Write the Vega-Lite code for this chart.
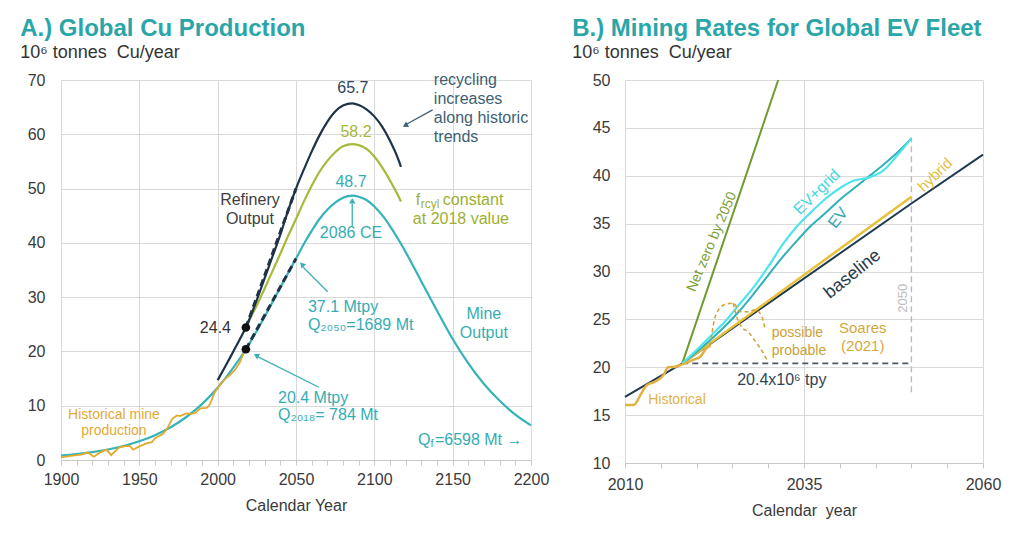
{
  "$schema": "https://vega.github.io/schema/vega-lite/v6.json",
  "padding": {"left": 20, "top": 17, "right": 5, "bottom": 5},
  "spacing": 23,
  "config": {
    "font": "Liberation Sans",
    "view": {"stroke": null},
    "axis": {"labelFont": "Liberation Sans", "labelFontSize": 16, "labelColor": "#3a3a3a", "titleFont": "Liberation Sans", "titleFontSize": 16, "titleFontWeight": "normal", "titleColor": "#3a3a3a", "gridColor": "#d9d9d9", "domainColor": "#c8c8c8", "tickColor": "#c8c8c8", "labelFlush": false},
    "title": {"font": "Liberation Sans", "fontSize": 24, "fontWeight": "bold", "color": "#2BA6A8", "subtitleFont": "Liberation Sans", "subtitleFontSize": 18, "subtitleColor": "#333333", "anchor": "start", "frame": "bounds", "offset": 10, "subtitlePadding": 3}
  },
  "datasets": {
    "left": [
      {"s":"mine","year":1900,"value":0.82},{"s":"mine","year":1910,"value":1.09},{"s":"mine","year":1920,"value":1.46},{"s":"mine","year":1930,"value":1.94},{"s":"mine","year":1940,"value":2.59},{"s":"mine","year":1950,"value":3.44},{"s":"mine","year":1960,"value":4.57},{"s":"mine","year":1970,"value":6.02},{"s":"mine","year":1980,"value":7.92},{"s":"mine","year":1990,"value":10.3},{"s":"mine","year":2000,"value":13.3},{"s":"mine","year":2010,"value":17.0},{"s":"mine","year":2018,"value":20.4},{"s":"mine","year":2025,"value":23.8},{"s":"mine","year":2030,"value":26.4},{"s":"mine","year":2035,"value":29.1},{"s":"mine","year":2040,"value":31.8},{"s":"mine","year":2045,"value":34.5},{"s":"mine","year":2050,"value":37.1},{"s":"mine","year":2055,"value":39.8},{"s":"mine","year":2060,"value":42.2},{"s":"mine","year":2065,"value":44.4},{"s":"mine","year":2070,"value":46.1},{"s":"mine","year":2075,"value":47.4},{"s":"mine","year":2080,"value":48.3},{"s":"mine","year":2086,"value":48.7},{"s":"mine","year":2090,"value":48.5},{"s":"mine","year":2095,"value":47.9},{"s":"mine","year":2100,"value":46.7},{"s":"mine","year":2105,"value":45.1},{"s":"mine","year":2110,"value":43.1},{"s":"mine","year":2115,"value":40.8},{"s":"mine","year":2120,"value":38.3},{"s":"mine","year":2130,"value":32.9},{"s":"mine","year":2140,"value":27.5},{"s":"mine","year":2150,"value":22.3},{"s":"mine","year":2160,"value":17.8},{"s":"mine","year":2170,"value":14.0},{"s":"mine","year":2180,"value":10.9},{"s":"mine","year":2190,"value":8.35},{"s":"mine","year":2200,"value":6.37},
      {"s":"ref","year":2000,"value":14.7},{"s":"ref","year":2005,"value":17.3},{"s":"ref","year":2010,"value":20.0},{"s":"ref","year":2015,"value":22.7},{"s":"ref","year":2018,"value":24.4},{"s":"ref","year":2025,"value":29.5},{"s":"ref","year":2030,"value":33.5},{"s":"ref","year":2035,"value":37.5},{"s":"ref","year":2040,"value":41.5},{"s":"ref","year":2045,"value":46.0},{"s":"ref","year":2050,"value":50.0},{"s":"ref","year":2055,"value":53.5},{"s":"ref","year":2060,"value":56.8},{"s":"ref","year":2065,"value":59.8},{"s":"ref","year":2070,"value":62.3},{"s":"ref","year":2075,"value":64.2},{"s":"ref","year":2080,"value":65.3},{"s":"ref","year":2086,"value":65.7},{"s":"ref","year":2090,"value":65.4},{"s":"ref","year":2095,"value":64.6},{"s":"ref","year":2100,"value":63.3},{"s":"ref","year":2105,"value":61.4},{"s":"ref","year":2110,"value":58.8},{"s":"ref","year":2115,"value":55.6},{"s":"ref","year":2117,"value":54.0},
      {"s":"frc","year":2018,"value":24.4},{"s":"frc","year":2020,"value":25.6},{"s":"frc","year":2025,"value":28.5},{"s":"frc","year":2030,"value":31.6},{"s":"frc","year":2035,"value":34.8},{"s":"frc","year":2040,"value":38.0},{"s":"frc","year":2045,"value":41.3},{"s":"frc","year":2050,"value":44.4},{"s":"frc","year":2055,"value":47.6},{"s":"frc","year":2060,"value":50.5},{"s":"frc","year":2065,"value":53.1},{"s":"frc","year":2070,"value":55.1},{"s":"frc","year":2075,"value":56.7},{"s":"frc","year":2080,"value":57.8},{"s":"frc","year":2086,"value":58.2},{"s":"frc","year":2090,"value":58.0},{"s":"frc","year":2095,"value":57.3},{"s":"frc","year":2100,"value":55.9},{"s":"frc","year":2105,"value":53.9},{"s":"frc","year":2110,"value":51.5},{"s":"frc","year":2115,"value":48.8},{"s":"frc","year":2117,"value":47.6},
      {"s":"hist","year":1900,"value":0.5},{"s":"hist","year":1905,"value":0.7},{"s":"hist","year":1910,"value":0.9},{"s":"hist","year":1913,"value":1.0},{"s":"hist","year":1917,"value":1.4},{"s":"hist","year":1921,"value":0.6},{"s":"hist","year":1925,"value":1.4},{"s":"hist","year":1929,"value":1.9},{"s":"hist","year":1932,"value":0.9},{"s":"hist","year":1937,"value":2.3},{"s":"hist","year":1940,"value":2.5},{"s":"hist","year":1944,"value":2.6},{"s":"hist","year":1946,"value":1.9},{"s":"hist","year":1950,"value":2.5},{"s":"hist","year":1955,"value":3.1},{"s":"hist","year":1958,"value":3.3},{"s":"hist","year":1960,"value":4.0},{"s":"hist","year":1965,"value":4.8},{"s":"hist","year":1968,"value":5.9},{"s":"hist","year":1971,"value":7.6},{"s":"hist","year":1974,"value":8.2},{"s":"hist","year":1976,"value":8.1},{"s":"hist","year":1980,"value":8.6},{"s":"hist","year":1983,"value":8.5},{"s":"hist","year":1986,"value":8.7},{"s":"hist","year":1989,"value":9.5},{"s":"hist","year":1993,"value":9.6},{"s":"hist","year":1995,"value":10.2},{"s":"hist","year":1998,"value":12.4},{"s":"hist","year":2002,"value":14.1},{"s":"hist","year":2005,"value":15.0},{"s":"hist","year":2008,"value":15.7},{"s":"hist","year":2011,"value":16.6},{"s":"hist","year":2014,"value":17.9},{"s":"hist","year":2016,"value":19.3},{"s":"hist","year":2018,"value":20.5},{"s":"hist","year":2020,"value":21.5}
    ],
    "dashL": [
      {"seg":"a","year":2018,"value":20.4},{"seg":"a","year":2050,"value":37.1},
      {"seg":"b","year":2018,"value":24.4},{"seg":"b","year":2050,"value":50.0}
    ],
    "right": [
      {"s":"base","year":2010,"value":16.9},{"s":"base","year":2018,"value":20.4},{"s":"base","year":2050,"value":37.1},{"s":"base","year":2060,"value":42.2},
      {"s":"hyb","year":2018,"value":20.4},{"s":"hyb","year":2050,"value":37.8},
      {"s":"evg","year":2018,"value":20.4},{"s":"evg","year":2020,"value":21.8},{"s":"evg","year":2022,"value":23.3},{"s":"evg","year":2024,"value":24.8},{"s":"evg","year":2026,"value":26.6},{"s":"evg","year":2028,"value":28.4},{"s":"evg","year":2030,"value":30.5},{"s":"evg","year":2032,"value":32.8},{"s":"evg","year":2034,"value":34.7},{"s":"evg","year":2036,"value":36.2},{"s":"evg","year":2038,"value":37.6},{"s":"evg","year":2040,"value":38.7},{"s":"evg","year":2042,"value":39.5},{"s":"evg","year":2044,"value":39.8},{"s":"evg","year":2046,"value":40.5},{"s":"evg","year":2048,"value":42.1},{"s":"evg","year":2050,"value":43.9},
      {"s":"ev","year":2018,"value":20.4},{"s":"ev","year":2020,"value":21.6},{"s":"ev","year":2022,"value":22.9},{"s":"ev","year":2024,"value":24.3},{"s":"ev","year":2026,"value":25.9},{"s":"ev","year":2028,"value":27.7},{"s":"ev","year":2030,"value":29.6},{"s":"ev","year":2032,"value":31.5},{"s":"ev","year":2034,"value":33.2},{"s":"ev","year":2036,"value":34.8},{"s":"ev","year":2038,"value":36.1},{"s":"ev","year":2040,"value":37.5},{"s":"ev","year":2042,"value":38.7},{"s":"ev","year":2044,"value":39.9},{"s":"ev","year":2046,"value":41.1},{"s":"ev","year":2048,"value":42.4},{"s":"ev","year":2050,"value":43.9},
      {"s":"nz","year":2018,"value":20.4},{"s":"nz","year":2031.4,"value":50.0},
      {"s":"hist","year":2010,"value":16.05},{"s":"hist","year":2011.2,"value":16.05},{"s":"hist","year":2012.3,"value":17.3},{"s":"hist","year":2013,"value":18.1},{"s":"hist","year":2014.2,"value":18.5},{"s":"hist","year":2015.4,"value":19.2},{"s":"hist","year":2016,"value":20.0},{"s":"hist","year":2017,"value":20.06},{"s":"hist","year":2018,"value":20.3},{"s":"hist","year":2019.5,"value":20.76},{"s":"hist","year":2020.5,"value":21.1},{"s":"hist","year":2021.4,"value":22.0},{"s":"hist","year":2021.9,"value":22.2},
      {"s":"poss","year":2021.9,"value":22.2},{"s":"poss","year":2022.5,"value":25.0},{"s":"poss","year":2023.4,"value":26.3},{"s":"poss","year":2024.2,"value":26.6},{"s":"poss","year":2025.1,"value":26.7},{"s":"poss","year":2026.1,"value":25.8},{"s":"poss","year":2027.2,"value":25.8},{"s":"poss","year":2028.2,"value":26.0},{"s":"poss","year":2029.1,"value":25.3},{"s":"poss","year":2029.6,"value":23.9},
      {"s":"prob","year":2025.1,"value":26.7},{"s":"prob","year":2025.6,"value":25.3},{"s":"prob","year":2026.3,"value":24.2},{"s":"prob","year":2027.2,"value":23.7},{"s":"prob","year":2028.4,"value":22.5},{"s":"prob","year":2029.3,"value":21.5},{"s":"prob","year":2029.8,"value":20.8}
    ]
  },
  "hconcat": [
    {
      "width": 470,
      "height": 380,
      "title": {"text": "A.) Global Cu Production", "subtitle": "10⁶ tonnes\u00a0 Cu/year", "dx": -7},
      "encoding": {
        "x": {"field": "year", "type": "quantitative", "scale": {"domain": [1900, 2200], "nice": false, "zero": false},
          "axis": {"title": "Calendar Year", "values": [1900,1910,1920,1930,1940,1950,1960,1970,1980,1990,2000,2010,2020,2030,2040,2050,2060,2070,2080,2090,2100,2110,2120,2130,2140,2150,2160,2170,2180,2190,2200], "format": "d", "labelExpr": "datum.value % 50 === 0 ? datum.label : ''", "labelOverlap": false, "gridOpacity": {"condition": {"test": "datum.value % 50 === 0", "value": 1}, "value": 0}, "tickSize": 5, "labelPadding": 6, "titlePadding": 10}},
        "y": {"field": "value", "type": "quantitative", "scale": {"domain": [0, 70], "nice": false},
          "axis": {"title": null, "values": [0,10,20,30,40,50,60,70], "domain": false, "ticks": false, "labelPadding": 16}}
      },
      "layer": [
        {"data": {"name": "left"}, "transform": [{"filter": "datum.s === 'mine'"}], "mark": {"type": "line", "color": "#35B3B8", "strokeWidth": 2.2, "interpolate": "monotone"}},
        {"data": {"name": "left"}, "transform": [{"filter": "datum.s === 'frc'"}], "mark": {"type": "line", "color": "#A4BA3A", "strokeWidth": 2.2, "interpolate": "monotone"}},
        {"data": {"name": "left"}, "transform": [{"filter": "datum.s === 'ref'"}], "mark": {"type": "line", "color": "#1E3348", "strokeWidth": 2.2, "interpolate": "monotone"}},
        {"data": {"name": "left"}, "transform": [{"filter": "datum.s === 'hist'"}], "mark": {"type": "line", "color": "#E3A92B", "strokeWidth": 1.8}},
        {"data": {"name": "dashL"}, "mark": {"type": "line", "color": "#1E3348", "strokeWidth": 3, "strokeDash": [7, 4]}, "encoding": {"detail": {"field": "seg"}}},
        {"data": {"values": [{"year": 2018, "value": 24.4}, {"year": 2018, "value": 20.4}]}, "mark": {"type": "point", "filled": true, "color": "#111111", "size": 75, "opacity": 1}},
        {"data": {"values": [{"year": 2085.9, "value": 43.1, "year2": 2085.9, "value2": 47.2}, {"year": 2070.2, "value": 31.0, "year2": 2054.6, "value2": 35.5}, {"year": 2064.6, "value": 13.4, "year2": 2025.8, "value2": 19.0}]}, "mark": {"type": "rule", "color": "#3AB0B5", "strokeWidth": 1.3}, "encoding": {"x2": {"field": "year2"}, "y2": {"field": "value2"}}},
        {"data": {"values": [{"year": 2137.2, "value": 64.5, "year2": 2120.8, "value2": 61.9}]}, "mark": {"type": "rule", "color": "#3d5f73", "strokeWidth": 1.3}, "encoding": {"x2": {"field": "year2"}, "y2": {"field": "value2"}}},
        {"data": {"values": [{"year": 2120.2, "value": 61.7}]}, "mark": {"type": "point", "shape": "triangle", "filled": true, "angle": 240.7, "size": 40, "color": "#3d5f73", "opacity": 1}},
        {"data": {"values": [{"year": 2085.9, "value": 47.6}]}, "mark": {"type": "point", "shape": "triangle", "filled": true, "angle": 0, "size": 40, "color": "#3AB0B5", "opacity": 1}},
        {"data": {"values": [{"year": 2054.2, "value": 35.9}]}, "mark": {"type": "point", "shape": "triangle", "filled": true, "angle": 316.8, "size": 40, "color": "#3AB0B5", "opacity": 1}},
        {"data": {"values": [{"year": 2025.1, "value": 19.2}]}, "mark": {"type": "point", "shape": "triangle", "filled": true, "angle": 296.6, "size": 40, "color": "#3AB0B5", "opacity": 1}},
        {"data": {"values": [{"t": "65.7", "year": 2086.3, "value": 68.5}]}, "mark": {"type": "text", "fontSize": 16, "color": "#2F4557", "align": "center", "baseline": "middle"}, "encoding": {"text": {"field": "t"}}},
        {"data": {"values": [{"t": "58.2", "year": 2088.3, "value": 60.4}]}, "mark": {"type": "text", "fontSize": 16, "color": "#A4B83A", "align": "center", "baseline": "middle"}, "encoding": {"text": {"field": "t"}}},
        {"data": {"values": [{"t": "48.7", "year": 2085.1, "value": 51.2}, {"t": "2086 CE", "year": 2085.1, "value": 41.8}, {"t": "Mine", "year": 2169.9, "value": 26.9}, {"t": "Output", "year": 2169.9, "value": 23.4}]}, "mark": {"type": "text", "fontSize": 16, "color": "#35ADB3", "align": "center", "baseline": "middle"}, "encoding": {"text": {"field": "t"}}},
        {"data": {"values": [{"t": "Refinery", "year": 2020.6, "value": 47.9}, {"t": "Output", "year": 2020.6, "value": 44.4}]}, "mark": {"type": "text", "fontSize": 16, "color": "#404040", "align": "center", "baseline": "middle"}, "encoding": {"text": {"field": "t"}}},
        {"data": {"values": [{"t": "recycling", "year": 2138, "value": 70.0}, {"t": "increases", "year": 2138, "value": 66.5}, {"t": "along historic", "year": 2138, "value": 63.0}, {"t": "trends", "year": 2138, "value": 59.5}]}, "mark": {"type": "text", "fontSize": 16, "color": "#3d5f73", "align": "left", "baseline": "middle"}, "encoding": {"text": {"field": "t"}}},
        {"data": {"values": [{"t": "f", "year": 2126.5, "value": 47.9}]}, "mark": {"type": "text", "fontSize": 16, "color": "#9CB030", "align": "left", "baseline": "middle"}, "encoding": {"text": {"field": "t"}}},
        {"data": {"values": [{"t": "rcyl", "year": 2126.5, "value": 47.9}]}, "mark": {"type": "text", "fontSize": 12, "color": "#9CB030", "align": "left", "baseline": "middle", "dx": 5, "dy": 4}, "encoding": {"text": {"field": "t"}}},
        {"data": {"values": [{"t": "constant", "year": 2126.5, "value": 47.9}]}, "mark": {"type": "text", "fontSize": 16, "color": "#9CB030", "align": "left", "baseline": "middle", "dx": 27}, "encoding": {"text": {"field": "t"}}},
        {"data": {"values": [{"t": "at 2018 value", "year": 2124.6, "value": 44.4}]}, "mark": {"type": "text", "fontSize": 16, "color": "#9CB030", "align": "left", "baseline": "middle"}, "encoding": {"text": {"field": "t"}}},
        {"data": {"values": [{"t": "24.4", "year": 2008.5, "value": 24.3}]}, "mark": {"type": "text", "fontSize": 16, "color": "#333333", "align": "right", "baseline": "middle"}, "encoding": {"text": {"field": "t"}}},
        {"data": {"values": [{"t": "37.1 Mtpy", "year": 2057.6, "value": 28.1}, {"t": "Q₂₀₅₀=1689 Mt", "year": 2057.6, "value": 24.8}, {"t": "20.4 Mtpy", "year": 2038.5, "value": 11.5}, {"t": "Q₂₀₁₈= 784 Mt", "year": 2038.5, "value": 8.2}]}, "mark": {"type": "text", "fontSize": 16, "color": "#35ADB3", "align": "left", "baseline": "middle"}, "encoding": {"text": {"field": "t"}}},
        {"data": {"values": [{"t": "Q", "year": 2127.8, "value": 3.68}]}, "mark": {"type": "text", "fontSize": 16, "color": "#35ADB3", "align": "left", "baseline": "middle"}, "encoding": {"text": {"field": "t"}}},
        {"data": {"values": [{"t": "f", "year": 2127.8, "value": 3.68}]}, "mark": {"type": "text", "fontSize": 11, "color": "#35ADB3", "align": "left", "baseline": "middle", "dx": 12.5, "dy": 4}, "encoding": {"text": {"field": "t"}}},
        {"data": {"values": [{"t": "=6598 Mt →", "year": 2127.8, "value": 3.68}]}, "mark": {"type": "text", "fontSize": 16, "color": "#35ADB3", "align": "left", "baseline": "middle", "dx": 17}, "encoding": {"text": {"field": "t"}}},
        {"data": {"values": [{"t": "Historical mine", "year": 1933.8, "value": 8.3}, {"t": "production", "year": 1933.8, "value": 5.3}]}, "mark": {"type": "text", "fontSize": 14, "color": "#E3AA35", "align": "center", "baseline": "middle"}, "encoding": {"text": {"field": "t"}}}
      ]
    },
    {
      "width": 358,
      "height": 383,
      "title": {"text": "B.) Mining Rates for Global EV Fleet", "subtitle": "10⁶ tonnes\u00a0 Cu/year", "dx": -20},
      "encoding": {
        "x": {"field": "year", "type": "quantitative", "scale": {"domain": [2010, 2060], "nice": false, "zero": false},
          "axis": {"title": "Calendar\u00a0 year", "values": [2010,2015,2020,2025,2030,2035,2040,2045,2050,2055,2060], "format": "d", "labelExpr": "datum.value % 25 === 10 ? datum.label : ''", "labelOverlap": false, "gridOpacity": {"condition": {"test": "datum.value % 25 === 10", "value": 1}, "value": 0}, "tickSize": 5, "labelPadding": 8, "titlePadding": 10}},
        "y": {"field": "value", "type": "quantitative", "scale": {"domain": [10, 50], "nice": false, "zero": false},
          "axis": {"title": null, "values": [10,15,20,25,30,35,40,45,50], "domain": false, "ticks": false, "labelPadding": 15}}
      },
      "layer": [
        {"data": {"values": [{"year": 2018, "value": 20.4, "year2": 2050, "value2": 20.4}]}, "mark": {"type": "rule", "color": "#4A5A6A", "strokeWidth": 1.6, "strokeDash": [6, 4]}, "encoding": {"x2": {"field": "year2"}, "y2": {"field": "value2"}}},
        {"data": {"values": [{"year": 2050, "value": 17.4, "year2": 2050, "value2": 44.0}]}, "mark": {"type": "rule", "color": "#BBBBBB", "strokeWidth": 1.4, "strokeDash": [6, 4]}, "encoding": {"x2": {"field": "year2"}, "y2": {"field": "value2"}}},
        {"data": {"name": "right"}, "transform": [{"filter": "datum.s === 'nz'"}], "mark": {"type": "line", "color": "#6F9A2E", "strokeWidth": 2}},
        {"data": {"name": "right"}, "transform": [{"filter": "datum.s === 'base'"}], "mark": {"type": "line", "color": "#1F3A4F", "strokeWidth": 2}},
        {"data": {"name": "right"}, "transform": [{"filter": "datum.s === 'hyb'"}], "mark": {"type": "line", "color": "#E8C13A", "strokeWidth": 2.5}},
        {"data": {"name": "right"}, "transform": [{"filter": "datum.s === 'ev'"}], "mark": {"type": "line", "color": "#2FB1B9", "strokeWidth": 2, "interpolate": "monotone"}},
        {"data": {"name": "right"}, "transform": [{"filter": "datum.s === 'evg'"}], "mark": {"type": "line", "color": "#4FE3EC", "strokeWidth": 2.2, "interpolate": "monotone"}},
        {"data": {"name": "right"}, "transform": [{"filter": "datum.s === 'hist'"}], "mark": {"type": "line", "color": "#E0B040", "strokeWidth": 2.5, "interpolate": "monotone"}},
        {"data": {"name": "right"}, "transform": [{"filter": "datum.s === 'poss'"}], "mark": {"type": "line", "color": "#CFA237", "strokeWidth": 1.5, "strokeDash": [4, 3], "interpolate": "monotone"}},
        {"data": {"name": "right"}, "transform": [{"filter": "datum.s === 'prob'"}], "mark": {"type": "line", "color": "#CFA237", "strokeWidth": 1.5, "strokeDash": [4, 3], "interpolate": "monotone"}},
        {"data": {"values": [{"t": "Net zero by 2050", "year": 2022.15, "value": 33.1}]}, "mark": {"type": "text", "fontSize": 14, "color": "#7A9E32", "align": "center", "baseline": "middle", "angle": -67}, "encoding": {"text": {"field": "t"}}},
        {"data": {"values": [{"t": "EV+grid", "year": 2036.8, "value": 38.3}]}, "mark": {"type": "text", "fontSize": 16, "color": "#45D8E0", "align": "center", "baseline": "middle", "angle": -44}, "encoding": {"text": {"field": "t"}}},
        {"data": {"values": [{"t": "EV", "year": 2039.75, "value": 35.6}]}, "mark": {"type": "text", "fontSize": 16, "color": "#2FA7AF", "align": "center", "baseline": "middle", "angle": -52}, "encoding": {"text": {"field": "t"}}},
        {"data": {"values": [{"t": "baseline", "year": 2041.8, "value": 29.7}]}, "mark": {"type": "text", "fontSize": 18, "color": "#1F3A4F", "align": "center", "baseline": "middle", "angle": -39}, "encoding": {"text": {"field": "t"}}},
        {"data": {"values": [{"t": "hybrid", "year": 2053.3, "value": 40.1}]}, "mark": {"type": "text", "fontSize": 15, "color": "#E3BF3F", "align": "center", "baseline": "middle", "angle": -44}, "encoding": {"text": {"field": "t"}}},
        {"data": {"values": [{"t": "Soares", "year": 2043.2, "value": 24.1}, {"t": "(2021)", "year": 2043.2, "value": 22.2}]}, "mark": {"type": "text", "fontSize": 15, "color": "#D4A83A", "align": "center", "baseline": "middle"}, "encoding": {"text": {"field": "t"}}},
        {"data": {"values": [{"t": "possible", "year": 2030.5, "value": 23.58}, {"t": "probable", "year": 2030.5, "value": 21.7}]}, "mark": {"type": "text", "fontSize": 14, "color": "#C9A23A", "align": "left", "baseline": "middle"}, "encoding": {"text": {"field": "t"}}},
        {"data": {"values": [{"t": "Historical", "year": 2017.26, "value": 16.58}]}, "mark": {"type": "text", "fontSize": 14, "color": "#E0B34A", "align": "center", "baseline": "middle"}, "encoding": {"text": {"field": "t"}}},
        {"data": {"values": [{"t": "20.4x10⁶ tpy", "year": 2031.9, "value": 18.67}]}, "mark": {"type": "text", "fontSize": 16, "color": "#2F4557", "align": "center", "baseline": "middle"}, "encoding": {"text": {"field": "t"}}},
        {"data": {"values": [{"t": "2050", "year": 2048.8, "value": 27.2}]}, "mark": {"type": "text", "fontSize": 13, "color": "#BBBBBB", "align": "center", "baseline": "middle", "angle": 270}, "encoding": {"text": {"field": "t"}}}
      ]
    }
  ]
}
